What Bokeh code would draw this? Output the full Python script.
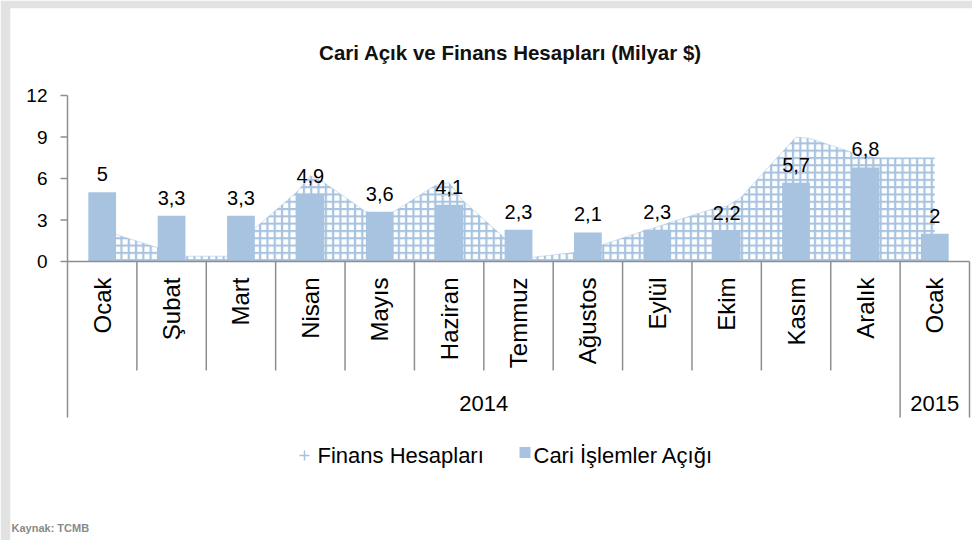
import math
from bokeh.plotting import figure
from bokeh.models import Range1d
from bokeh.core.properties import value
from bokeh.embed import file_html
from bokeh.resources import INLINE

# ---------------- data ----------------
months = ["Ocak", "Şubat", "Mart", "Nisan", "Mayıs", "Haziran", "Temmuz",
          "Ağustos", "Eylül", "Ekim", "Kasım", "Aralık", "Ocak"]
years = ["2014"] * 12 + ["2015"]
cari_acik = [5.0, 3.3, 3.3, 4.9, 3.6, 4.1, 2.3, 2.1, 2.3, 2.2, 5.7, 6.8, 2.0]
# Finans Hesapları area, read at each bar's left edge, centre and right edge
finans_sol = [None, 1.0, 0.38, 5.0, 3.6, 5.5, 1.7, 0.65, 2.2, 3.8, 7.9, 7.9, 7.5]
finans_orta = [2.2, 0.7, 1.4, 6.2, 3.4, 5.7, 1.0, 0.9, 2.5, 4.0, 9.0, 7.6, 7.5]
finans_sag = [1.95, 0.38, 2.4, 5.7, 3.6, 4.4, 0.3, 1.2, 2.85, 4.6, 8.9, 7.5, None]
y_ticks = [0, 3, 6, 9, 12]

title_text = "Cari Açık ve Finans Hesapları (Milyar $)"
legend_finans = "Finans Hesapları"
legend_cari = "Cari İşlemler Açığı"
source_text = "Kaynak: TCMB"

# ---------------- layout constants (page pixels) ----------------
BLUE = "#A7C3E0"
AXIS = "#8E8E8E"
FONT = "Liberation Sans"

W, H = 972, 540
BORDER_L, BORDER_T = 10, 8        # light grey frame strips (top / left)
AXIS_X = 67.0                     # page x of category 0 boundary
PPC = 902.0 / 13.0                # pixels per category
ZERO_Y = 261.0                    # page y of value 0
PPU = 166.0 / 12.0                # pixels per value unit
n = len(months)


def xpx(page_x):
    return (page_x - AXIS_X) / PPC


def ypx(page_y):
    return (ZERO_Y - page_y) / PPU


p = figure(width=W, height=H, output_backend="svg", toolbar_location=None,
           x_range=Range1d(xpx(BORDER_L), xpx(W)),
           y_range=Range1d(ypx(H), ypx(BORDER_T)),
           min_border_left=BORDER_L, min_border_right=0,
           min_border_top=BORDER_T, min_border_bottom=0,
           background_fill_color="white", border_fill_color="#E2E2E2",
           outline_line_color=None)
p.axis.visible = False
p.grid.visible = False

centers = [i + 0.5 for i in range(n)]
half_bar = 0.2

# ---------------- Finans Hesapları (hatched area) ----------------
ax, ay = [], []
for i in range(n):
    if finans_sol[i] is not None:
        ax.append(i + 0.5 - half_bar)
        ay.append(finans_sol[i])
    ax.append(i + 0.5)
    ay.append(finans_orta[i])
    if finans_sag[i] is not None:
        ax.append(i + 0.5 + half_bar)
        ay.append(finans_sag[i])
p.varea(x=ax, y1=[0] * len(ax), y2=ay, fill_color=None, fill_alpha=0,
        hatch_pattern="+", hatch_color=BLUE, hatch_scale=7.3, hatch_weight=2.2)
p.line(ax, ay, line_color=BLUE, line_width=1, line_alpha=0.5)

# ---------------- Cari İşlemler Açığı bars ----------------
p.vbar(x=centers, top=cari_acik, width=2 * half_bar, fill_color=BLUE,
       line_color=None)
labels = [("%g" % v).replace(".", ",") for v in cari_acik]
p.text(x=centers, y=cari_acik, text=labels, text_align="center",
       text_baseline="bottom", y_offset=-11, text_font=value(FONT),
       text_font_size="20px", text_color="black")

# ---------------- value axis (drawn) ----------------
tick_len = 7.0 / PPC
p.segment(x0=[-tick_len] * len(y_ticks), y0=y_ticks, x1=[0] * len(y_ticks),
          y1=y_ticks, line_color=AXIS, line_width=1.5)
p.text(x=[xpx(AXIS_X - 20)] * len(y_ticks), y=y_ticks,
       text=[str(t) for t in y_ticks], text_align="right",
       text_baseline="middle", text_font=value(FONT), text_font_size="19px",
       text_color="black")

# ---------------- category axis (drawn) ----------------
month_sep_bottom = ypx(370)
year_sep_bottom = ypx(417)
p.segment(x0=[0], y0=[y_ticks[-1]], x1=[0], y1=[year_sep_bottom],
          line_color=AXIS, line_width=1.5)
p.segment(x0=[0], y0=[0], x1=[n], y1=[0], line_color=AXIS, line_width=1.5)
seps_x, seps_b = [], []
for k in range(1, n + 1):
    seps_x.append(k)
    if k == n or years[k - 1] != years[k]:
        seps_b.append(year_sep_bottom)
    else:
        seps_b.append(month_sep_bottom)
p.segment(x0=seps_x, y0=[0] * len(seps_x), x1=seps_x, y1=seps_b,
          line_color=AXIS, line_width=1.5)

p.text(x=centers, y=[ypx(277)] * n, text=months, angle=math.pi / 2,
       text_align="right", text_baseline="middle", text_font=value(FONT),
       text_font_size="24px", text_color="black")

# year group labels
groups = []
for i, yv in enumerate(years):
    if not groups or groups[-1][0] != yv:
        groups.append([yv, i, i])
    else:
        groups[-1][2] = i
gx = [(g[1] + g[2] + 1) / 2 for g in groups]
p.text(x=gx, y=[ypx(403)] * len(groups), text=[g[0] for g in groups],
       text_align="center", text_baseline="middle", text_font=value(FONT),
       text_font_size="22px", text_color="black")

# ---------------- title ----------------
p.text(x=[xpx(510)], y=[ypx(52)], text=[title_text], text_align="center",
       text_baseline="middle", text_font=value(FONT), text_font_style="bold",
       text_font_size="20.5px", text_color="#111111")

# ---------------- legend ----------------
leg_y = ypx(455)
p.scatter(x=[xpx(304)], y=[leg_y], marker="cross", size=10, line_color=BLUE,
          line_width=1.5)
p.text(x=[xpx(317)], y=[leg_y], text=[legend_finans], text_align="left",
       text_baseline="middle", text_font=value(FONT), text_font_size="22px",
       text_color="black")
p.scatter(x=[xpx(524.5)], y=[ypx(452)], marker="square", size=11,
          fill_color=BLUE, line_color=None)
p.text(x=[xpx(533)], y=[leg_y], text=[legend_cari], text_align="left",
       text_baseline="middle", text_font=value(FONT), text_font_size="22px",
       text_color="black")

# ---------------- source ----------------
p.text(x=[xpx(11)], y=[ypx(527)], text=[source_text], text_align="left",
       text_baseline="middle", text_font=value(FONT), text_font_style="bold",
       text_font_size="11px", text_color="#8A8A8A")

open("out.html", "w").write(file_html(p, INLINE))
